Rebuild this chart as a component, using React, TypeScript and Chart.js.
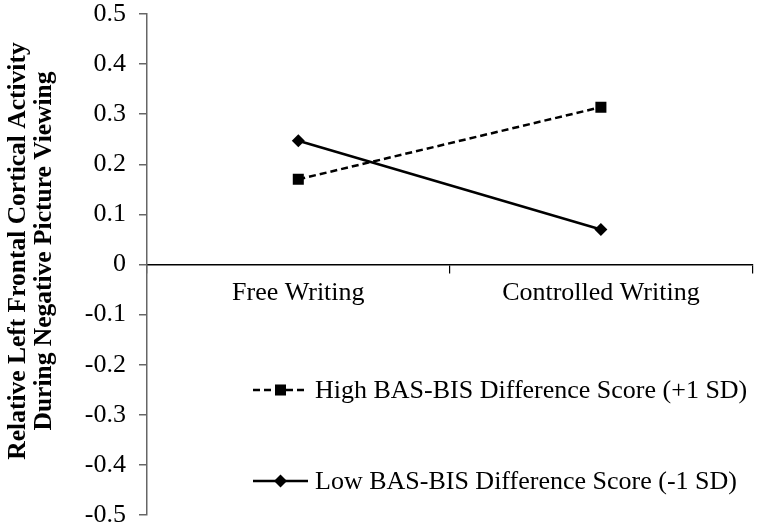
import React, { useEffect, useRef } from "react";
import { Chart, registerables } from "chart.js";

Chart.register(...registerables);

const categories = ["Free Writing", "Controlled Writing"];
const highValues = [0.17, 0.314];
const lowValues = [0.247, 0.07];
const highLabel = "High BAS-BIS Difference Score (+1 SD)";
const lowLabel = "Low BAS-BIS Difference Score (-1 SD)";
const yTitleLines = ["Relative Left Frontal Cortical Activity", "During Negative Picture Viewing"];
const yMin = -0.5;
const yMax = 0.5;
const yStep = 0.1;

const SERIF = "'Liberation Serif', 'Times New Roman', serif";

function drawMarker(ctx: CanvasRenderingContext2D, style: string, x: number, y: number, r: number) {
  ctx.beginPath();
  if (style === "rect") {
    const s = Math.SQRT1_2 * r;
    ctx.rect(x - s, y - s, 2 * s, 2 * s);
  } else {
    ctx.moveTo(x - r, y);
    ctx.lineTo(x, y - r);
    ctx.lineTo(x + r, y);
    ctx.lineTo(x, y + r);
    ctx.closePath();
  }
  ctx.fill();
}

const titlePlugin = {
  id: "yTitle",
  afterDraw(chart: any) {
    const ctx = chart.ctx as CanvasRenderingContext2D;
    ctx.save();
    ctx.translate(31, 251);
    ctx.rotate(-Math.PI / 2);
    ctx.fillStyle = "#000";
    ctx.font = `bold 25.5px ${SERIF}`;
    ctx.textAlign = "center";
    ctx.textBaseline = "middle";
    ctx.fillText(yTitleLines[0], 0, -13);
    ctx.fillText(yTitleLines[1], 0, 13);
    ctx.restore();
  },
};

const legendPlugin = {
  id: "inLegend",
  afterDatasetsDraw(chart: any) {
    const ctx = chart.ctx as CanvasRenderingContext2D;
    const rows = [390, 481];
    chart.data.datasets.forEach((ds: any, i: number) => {
      const y = rows[i];
      ctx.save();
      ctx.strokeStyle = ds.borderColor;
      ctx.lineWidth = ds.borderWidth;
      ctx.setLineDash(ds.borderDash || []);
      ctx.beginPath();
      ctx.moveTo(253, y);
      ctx.lineTo(308, y);
      ctx.stroke();
      ctx.setLineDash([]);
      ctx.fillStyle = ds.pointBackgroundColor;
      drawMarker(ctx, ds.pointStyle, 280.5, y, ds.pointRadius);
      ctx.fillStyle = "#000";
      ctx.font = `26px ${SERIF}`;
      ctx.textAlign = "left";
      ctx.textBaseline = "middle";
      ctx.fillText(ds.label, 315, y + 1);
      ctx.restore();
    });
  },
};

export default function App() {
  const ref = useRef<HTMLCanvasElement | null>(null);
  useEffect(() => {
    if (!ref.current) return;
    const chart = new Chart(ref.current, {
      type: "line",
      data: {
        labels: categories,
        datasets: [
          {
            label: highLabel,
            data: highValues,
            borderColor: "#000",
            borderWidth: 2.5,
            borderDash: [7, 4],
            pointStyle: "rect",
            pointRadius: 7.8,
            pointBackgroundColor: "#000",
            pointBorderColor: "#000",
            pointBorderWidth: 0,
            tension: 0,
          },
          {
            label: lowLabel,
            data: lowValues,
            borderColor: "#000",
            borderWidth: 2.5,
            pointStyle: "rectRot",
            pointRadius: 6.5,
            pointBackgroundColor: "#000",
            pointBorderColor: "#000",
            pointBorderWidth: 0,
            tension: 0,
          },
        ],
      },
      options: {
        animation: false,
        responsive: false,
        layout: { padding: { left: 0, top: 14, right: 2, bottom: 13 } },
        plugins: {
          legend: { display: false },
          tooltip: { enabled: false },
          title: { display: false },
        },
        scales: {
          x: {
            type: "category",
            position: { y: 0 } as any,
            offset: true,
            afterFit(scale: any) {
              scale.paddingLeft = 0;
              scale.paddingRight = 0;
            },
            grid: {
              offset: true,
              drawOnChartArea: false,
              drawTicks: true,
              tickLength: 8,
              color: "#000",
              lineWidth: 1.2,
            },
            border: { display: true, color: "#000", width: 1.5 },
            ticks: {
              color: "#000",
              font: { family: SERIF, size: 26 },
              padding: 5,
              maxRotation: 0,
              autoSkip: false,
            },
          },
          y: {
            type: "linear",
            min: yMin,
            max: yMax,
            afterFit(scale: any) {
              scale.width = 147;
              scale.paddingTop = 0;
              scale.paddingBottom = 0;
            },
            grid: {
              drawOnChartArea: false,
              drawTicks: true,
              tickLength: 8,
              color: "#666",
              lineWidth: 1.5,
            },
            border: { display: true, color: "#666", width: 1.5 },
            ticks: {
              stepSize: yStep,
              color: "#000",
              font: { family: SERIF, size: 26 },
              padding: 13,
              callback: (v: any) => {
                const n = Number(v);
                if (Math.abs(n) < 1e-9) return "0";
                return n.toFixed(1);
              },
            },
          },
        },
      },
      plugins: [titlePlugin, legendPlugin],
    });
    return () => chart.destroy();
  }, []);
  return (
    <div style={{ position: "absolute", left: 0, top: 0, width: 760, height: 528, background: "#fff" }}>
      <canvas ref={ref} width={760} height={528} style={{ display: "block" }} />
    </div>
  );
}
